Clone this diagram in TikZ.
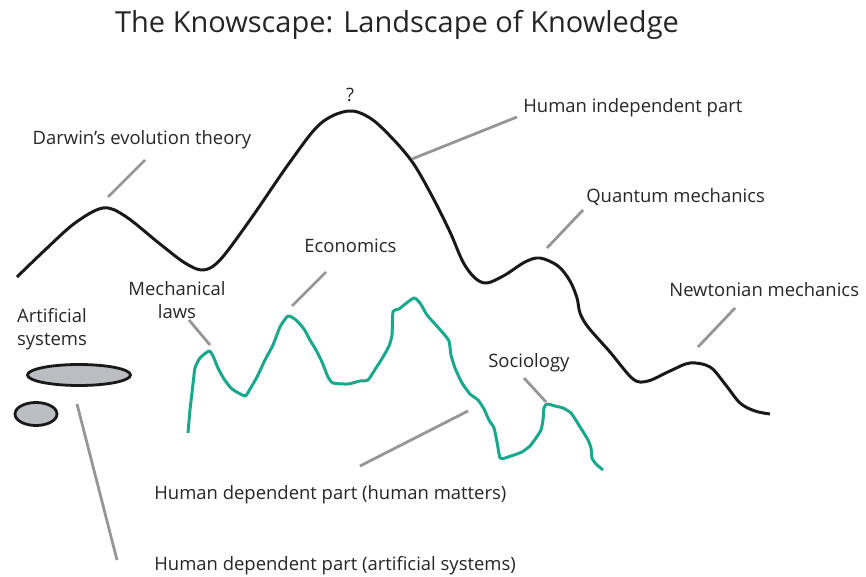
\documentclass[tikz,border=0pt]{standalone}
\usepackage{fontspec}
\setmainfont{Open Sans}
\usepackage{tikz}
\usetikzlibrary{positioning, shapes.geometric}

\definecolor{ridgegreen}{RGB}{26,168,140}
\definecolor{leadergray}{RGB}{150,150,152}
\definecolor{blobgray}{RGB}{188,189,193}

\begin{document}
\begin{tikzpicture}[x=0.02cm, y=-0.02cm,
label/.style={inner sep=0pt, font=\fontsize{10.5}{13}\selectfont, text=black!85, align=center},
titlenode/.style={inner sep=0pt, font=\fontsize{16.5}{20}\selectfont, text=black!85},
leader/.style={draw=leadergray, line width=1.6pt},
ridge/.style={draw=black!90, line width=1.7pt, line join=round},
humanridge/.style={draw=ridgegreen, line width=1.7pt, line join=round},
blob/.style={ellipse, draw=black!90, fill=blobgray, line width=1.6pt, inner sep=0pt},
]
\useasboundingbox (0,0) rectangle (866,577);

%Nodes
\node[titlenode]           (title)      at (397,25)  {The Knowscape: Landscape of Knowledge};
\node[label]               (top)        at (350,95)  {?};
\node[label]               (darwin)     at (142,140) {Darwin’s evolution theory};
\node[label, anchor=west]  (independent) at (523,108) {Human independent part};
\node[label, anchor=west]  (quantum)    at (586,197) {Quantum mechanics};
\node[label, anchor=west]  (newton)     at (669,290) {Newtonian mechanics};
\node[label, anchor=west]  (economics)  at (304,246) {Economics};
\node[label]               (mechanical) at (177,300) {Mechanical\\laws};
\node[label]               (artificial) at (52,329)  {Artificial\\systems};
\node[label, anchor=west]  (sociology)  at (488,363) {Sociology};
\node[label, anchor=west]  (matters)    at (154,495) {Human dependent part (human matters)};
\node[label, anchor=west]  (systems)    at (154,566) {Human dependent part (artificial systems)};

\node[blob, minimum width=2.06cm, minimum height=0.42cm] (bigblob) at (79,375) {};
\node[blob, minimum width=0.84cm, minimum height=0.46cm] (smallblob) at (36,414) {};

%Leader ends
\coordinate (darwinA) at (108,197);      \coordinate (darwinB) at (145,160);
\coordinate (independentA) at (412,159); \coordinate (independentB) at (517,117);
\coordinate (quantumA) at (547,248);     \coordinate (quantumB) at (583,210);
\coordinate (newtonA) at (698,347);      \coordinate (newtonB) at (735,308);
\coordinate (economicsA) at (292,306);   \coordinate (economicsB) at (326,272);
\coordinate (mechanicalA) at (210,345);  \coordinate (mechanicalB) at (189,320);
\coordinate (sociologyA) at (546,402);   \coordinate (sociologyB) at (524,378);
\coordinate (mattersA) at (468,411);     \coordinate (mattersB) at (360,466);
\coordinate (systemsA) at (77,404);      \coordinate (systemsB) at (117,560);

%Lines
\draw[ridge] plot[smooth, tension=0.55] coordinates {
  (17,277) (45,250) (75,223) (103,208) (125,216) (160,244) (185,263) (203,270)
  (220,260) (250,220) (290,162) (320,124) (348,111) (370,118) (392,138) (413,163)
  (432,196) (450,232) (463,262) (475,278) (487,283) (505,275) (525,262) (540,258)
  (558,266) (570,281) (577,298) (580,313) (588,327) (610,352) (633,379) (648,381)
  (670,371) (690,363) (710,367) (725,384) (740,403) (755,411) (770,414)};

\draw[humanridge] plot[smooth, tension=0.35] coordinates {
  (188,433) (190,410) (193,384) (195,368) (200,358) (209,351) (213,356) (218,368)
  (224,379) (232,389) (245,396) (250,389) (257,377) (265,360) (273,345) (280,327)
  (288,316) (296,320) (304,329) (310,340) (316,350) (322,362) (328,377) (333,383)
  (348,384) (360,381) (368,380) (376,368) (383,357) (389,346) (392,335) (393,312)
  (399,309) (404,305) (414,298) (420,303) (427,315) (435,324) (443,333) (449,341)
  (451,355) (455,368) (462,383) (470,394) (478,400) (484,409) (489,420) (494,428)
  (497,442) (500,458) (505,458) (514,455) (522,452) (530,446) (536,438) (541,430)
  (543,420) (544,408) (547,404) (555,406) (563,408) (571,413) (577,422) (582,430)
  (588,440) (591,448) (592,458) (596,464) (603,470)};

\draw[leader] (darwinA) -- (darwinB);
\draw[leader] (independentA) -- (independentB);
\draw[leader] (quantumA) -- (quantumB);
\draw[leader] (newtonA) -- (newtonB);
\draw[leader] (economicsA) -- (economicsB);
\draw[leader] (mechanicalA) -- (mechanicalB);
\draw[leader] (sociologyA) -- (sociologyB);
\draw[leader] (mattersA) -- (mattersB);
\draw[leader] (systemsA) -- (systemsB);
\end{tikzpicture}
\end{document}
